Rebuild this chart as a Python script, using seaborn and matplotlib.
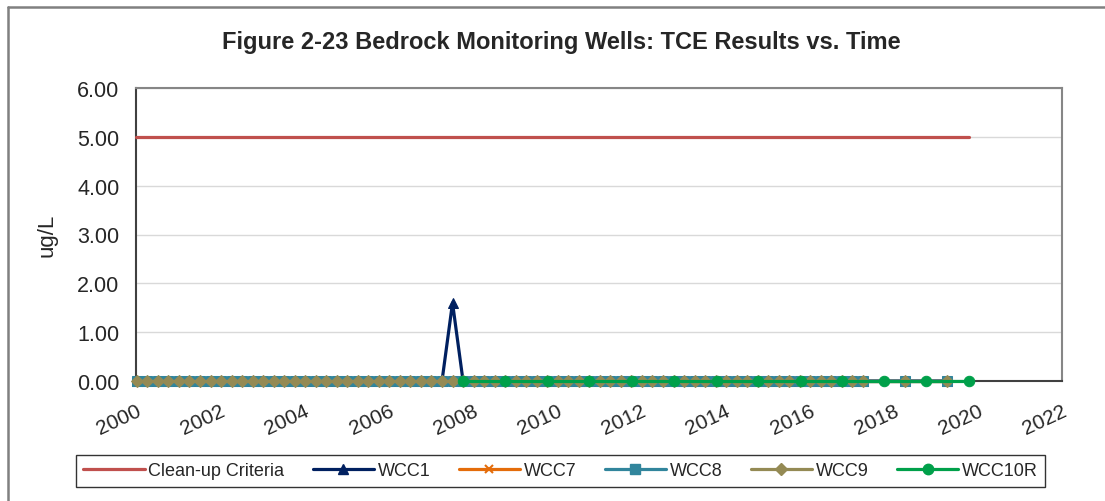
import pandas as pd
import matplotlib.pyplot as plt
import matplotlib.lines as mlines
import seaborn as sns

# Sample dates (decimal years) for WCC1 / WCC7 / WCC8 / WCC9
dates = [
    2000.02, 2000.27, 2000.52, 2000.77, 2001.02, 2001.27, 2001.52, 2001.77,
    2002.02, 2002.27, 2002.52, 2002.77, 2003.02, 2003.27, 2003.52, 2003.77,
    2004.02, 2004.27, 2004.52, 2004.77, 2005.02, 2005.27, 2005.52, 2005.77,
    2006.02, 2006.27, 2006.52, 2006.77, 2007.02, 2007.27, 2007.52, 2007.77,
    2008.02, 2008.27, 2008.52, 2008.77, 2009.02, 2009.27, 2009.52, 2009.77,
    2010.02, 2010.27, 2010.52, 2010.77, 2011.02, 2011.27, 2011.52, 2011.77,
    2012.02, 2012.27, 2012.52, 2012.77, 2013.02, 2013.27, 2013.52, 2013.77,
    2014.02, 2014.27, 2014.52, 2014.77, 2015.02, 2015.27, 2015.52, 2015.77,
    2016.02, 2016.27, 2016.52, 2016.77, 2017.02, 2017.27, 2018.27, 2019.27,
]

wcc1 = [
    0, 0, 0, 0, 0, 0, 0, 0, 0, 0, 0, 0, 0, 0, 0, 0,
    0, 0, 0, 0, 0, 0, 0, 0, 0, 0, 0, 0, 0, 0, 1.6, 0,
    0, 0, 0, 0, 0, 0, 0, 0, 0, 0, 0, 0, 0, 0, 0, 0,
    0, 0, 0, 0, 0, 0, 0, 0, 0, 0, 0, 0, 0, 0, 0, 0,
    0, 0, 0, 0, 0, 0, 0, 0,
]
wcc7 = [
    0, 0, 0, 0, 0, 0, 0, 0, 0, 0, 0, 0, 0, 0, 0, 0,
    0, 0, 0, 0, 0, 0, 0, 0, 0, 0, 0, 0, 0, 0, 0, 0,
    0, 0, 0, 0, 0, 0, 0, 0, 0, 0, 0, 0, 0, 0, 0, 0,
    0, 0, 0, 0, 0, 0, 0, 0, 0, 0, 0, 0, 0, 0, 0, 0,
    0, 0, 0, 0, 0, 0, 0, 0,
]
wcc8 = [
    0, 0, 0, 0, 0, 0, 0, 0, 0, 0, 0, 0, 0, 0, 0, 0,
    0, 0, 0, 0, 0, 0, 0, 0, 0, 0, 0, 0, 0, 0, 0, 0,
    0, 0, 0, 0, 0, 0, 0, 0, 0, 0, 0, 0, 0, 0, 0, 0,
    0, 0, 0, 0, 0, 0, 0, 0, 0, 0, 0, 0, 0, 0, 0, 0,
    0, 0, 0, 0, 0, 0, 0, 0,
]
wcc9 = [
    0, 0, 0, 0, 0, 0, 0, 0, 0, 0, 0, 0, 0, 0, 0, 0,
    0, 0, 0, 0, 0, 0, 0, 0, 0, 0, 0, 0, 0, 0, 0, 0,
    0, 0, 0, 0, 0, 0, 0, 0, 0, 0, 0, 0, 0, 0, 0, 0,
    0, 0, 0, 0, 0, 0, 0, 0, 0, 0, 0, 0, 0, 0, 0, 0,
    0, 0, 0, 0, 0, 0, 0, 0,
]

# WCC10R sampled annually
dates_10r = [2007.77, 2008.77, 2009.79, 2010.77, 2011.78, 2012.78, 2013.80,
             2014.77, 2015.80, 2016.77, 2017.77, 2018.77, 2019.79]
wcc10r = [0, 0, 0, 0, 0, 0, 0, 0, 0, 0, 0, 0, 0]

# Clean-up criteria
crit_dates = [2000.0, 2019.8]
crit_vals = [5.0, 5.0]

xticks = [2000, 2002, 2004, 2006, 2008, 2010, 2012, 2014, 2016, 2018, 2020, 2022]
yticks = [0, 1, 2, 3, 4, 5, 6]

sns.set_style("white")
plt.rcParams['font.family'] = ['Liberation Sans', 'DejaVu Sans']

fig = plt.figure(figsize=(11.05, 5.02), dpi=100)
ax = fig.add_axes([136/1105, 1-382/502, (1062-136)/1105, (382-89)/502])

series = [
    ("Clean-up Criteria", crit_dates, crit_vals, "#C0504D", None, 0),
    ("WCC1", dates, wcc1, "#002060", "^", 7.5),
    ("WCC7", dates, wcc7, "#E46C0A", "x", 6),
    ("WCC8", dates, wcc8, "#31859C", "s", 7),
    ("WCC9", dates, wcc9, "#948A54", "D", 6.5),
    ("WCC10R", dates_10r, wcc10r, "#00A04A", "o", 7.5),
]

handles = []
for name, x, y, color, marker, ms in series:
    df = pd.DataFrame({"date": x, "value": y})
    kw = dict(marker=marker, markersize=ms, markeredgecolor=color,
              markerfacecolor=color) if marker else {}
    if marker == "x":
        kw["markeredgewidth"] = 1.5
    sns.lineplot(data=df, x="date", y="value", ax=ax, color=color,
                 linewidth=2.3, estimator=None, legend=False, clip_on=False,
                 zorder=3, **kw)
    handles.append(mlines.Line2D([], [], color=color, linewidth=2.3, label=name,
                                 **kw))

ax.set_xlim(2000, 2022)
ax.set_ylim(0, 6)
ax.set_xticks(xticks)
ax.set_xticklabels([str(t) for t in xticks], rotation=25, ha='right',
                   va='top', rotation_mode='anchor', fontsize=15)
ax.set_yticks(yticks)
ax.set_yticklabels(["%.2f" % t for t in yticks], fontsize=15.5)
ax.tick_params(axis='x', length=0, pad=14)
ax.tick_params(axis='y', length=0, pad=12)
ax.yaxis.grid(True, color="#D9D9D9", linewidth=1)
ax.set_axisbelow(True)
ax.set_xlabel("")
ax.set_ylabel("ug/L", fontsize=16, labelpad=14)

for side in ["top", "right"]:
    ax.spines[side].set_color("#868686")
    ax.spines[side].set_linewidth(1.5)
for side in ["left", "bottom"]:
    ax.spines[side].set_color("#404040")
    ax.spines[side].set_linewidth(1.5)

fig.text(0.508, 1-43/502, "Figure 2-23 Bedrock Monitoring Wells: TCE Results vs. Time",
         ha='center', va='center', fontsize=17, fontweight='bold')

fig.legend(handles=handles, loc='center', ncol=6, mode='expand',
           bbox_to_anchor=(76/1105, 1-490/502, (1045-76)/1105, 36/502),
           frameon=True, fancybox=False, edgecolor='black', fontsize=13,
           handlelength=3.4, handletextpad=0.2, borderaxespad=0)

# outer chart frame
fig.add_artist(mlines.Line2D([8/1105, 1], [1-7.5/502, 1-7.5/502],
                             color="#808080", linewidth=1.8))
fig.add_artist(mlines.Line2D([8/1105, 8/1105], [0, 1-7.5/502],
                             color="#808080", linewidth=1.8))

fig.savefig("out.png", dpi=100)
